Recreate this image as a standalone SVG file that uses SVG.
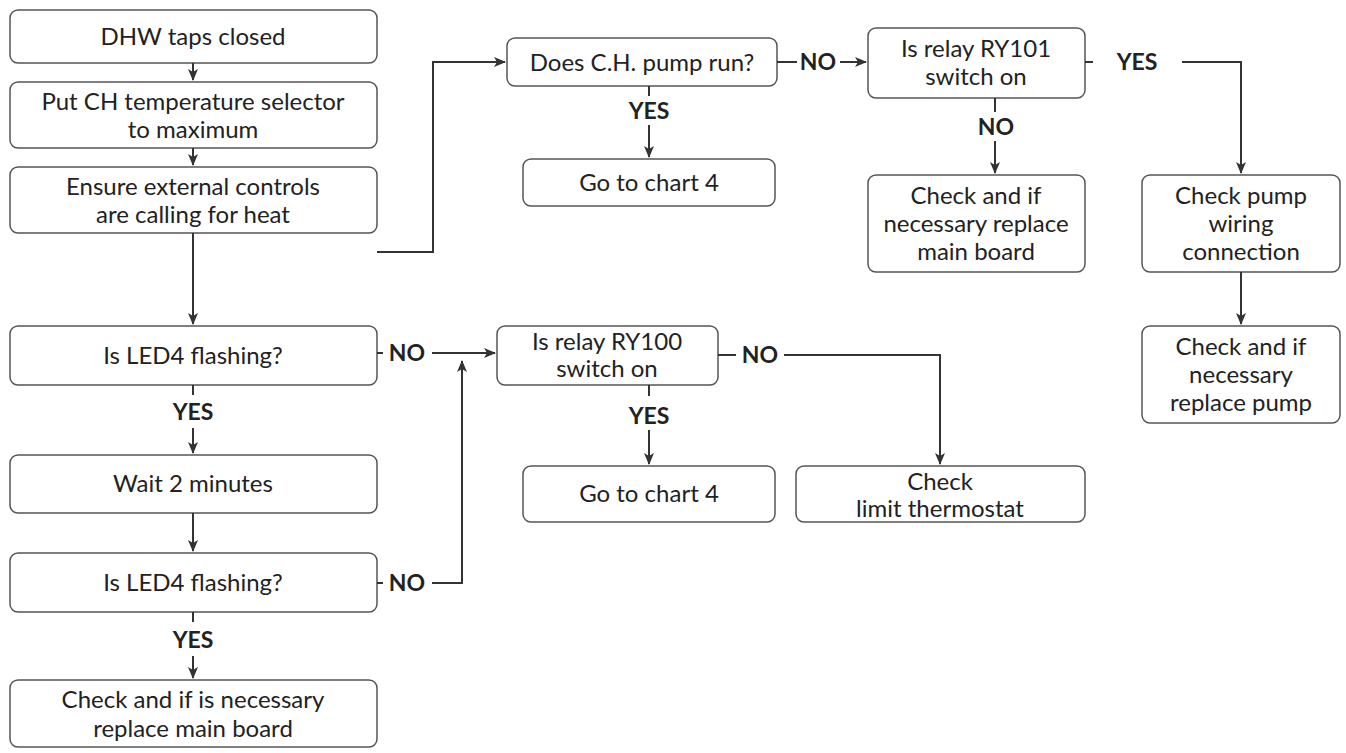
<svg xmlns="http://www.w3.org/2000/svg" width="1346" height="753" viewBox="0 0 1346 753">
<defs><marker id="a" markerWidth="12" markerHeight="10" refX="11" refY="5" orient="auto" markerUnits="userSpaceOnUse"><path d="M0,0 L12,5 L0,10 L3,5 Z" fill="#333"/></marker></defs>
<style>
rect{fill:#fff;stroke:#555;stroke-width:1.5}
text{font-family:Lato,"Noto Sans",sans-serif;font-size:24px;fill:#222;text-anchor:middle}
.l{font-weight:bold;font-size:23px}
.c{fill:none;stroke:#333;stroke-width:2}
</style>
<rect width="1346" height="753" style="fill:#fff;stroke:none"/>
<g id="n1"><rect x="10" y="10" width="367" height="53" rx="8"/><text x="193" y="45">DHW taps closed</text></g>
<g id="n2"><rect x="10" y="82" width="367" height="66" rx="8"/><text x="193" y="110">Put CH temperature selector</text><text x="193" y="138">to maximum</text></g>
<g id="n3"><rect x="10" y="167" width="367" height="66" rx="8"/><text x="193" y="195">Ensure external controls</text><text x="193" y="223">are calling for heat</text></g>
<g id="n4"><rect x="10" y="326" width="367" height="59" rx="8"/><text x="193" y="364">Is LED4 flashing?</text></g>
<g id="n5"><rect x="10" y="455" width="367" height="58" rx="8"/><text x="193" y="492">Wait 2 minutes</text></g>
<g id="n6"><rect x="10" y="553" width="367" height="59" rx="8"/><text x="193" y="591">Is LED4 flashing?</text></g>
<g id="n7"><rect x="10" y="680" width="367" height="67" rx="8"/><text x="193" y="708">Check and if is necessary</text><text x="193" y="737">replace main board</text></g>
<g id="n8"><rect x="507" y="38" width="270" height="48" rx="8"/><text x="642" y="71">Does C.H. pump run?</text></g>
<g id="n9"><rect x="523" y="159" width="252" height="47" rx="8"/><text x="649" y="191">Go to chart 4</text></g>
<g id="n10"><rect x="868" y="28" width="217" height="70" rx="8"/><text x="976" y="57">Is relay RY101</text><text x="976" y="85">switch on</text></g>
<g id="n11"><rect x="868" y="175" width="217" height="97" rx="8"/><text x="976" y="204">Check and if</text><text x="976" y="232">necessary replace</text><text x="976" y="260">main board</text></g>
<g id="n12"><rect x="1142" y="175" width="198" height="97" rx="8"/><text x="1241" y="204">Check pump</text><text x="1241" y="232">wiring</text><text x="1241" y="260">connection</text></g>
<g id="n13"><rect x="1142" y="326" width="198" height="97" rx="8"/><text x="1241" y="355">Check and if</text><text x="1241" y="383">necessary</text><text x="1241" y="411">replace pump</text></g>
<g id="n14"><rect x="497" y="326" width="221" height="59" rx="8"/><text x="607" y="350">Is relay RY100</text><text x="607" y="377">switch on</text></g>
<g id="n15"><rect x="523" y="466" width="252" height="56" rx="8"/><text x="649" y="502">Go to chart 4</text></g>
<g id="n16"><rect x="796" y="466" width="289" height="56" rx="8"/><text x="940" y="490">Check</text><text x="940" y="517">limit thermostat</text></g>
<g id="connectors">
<path class="c" d="M193 63V80" marker-end="url(#a)"/>
<path class="c" d="M193 148V165" marker-end="url(#a)"/>
<path class="c" d="M193 233V324" marker-end="url(#a)"/>
<path class="c" d="M193 385V395M193 428V453" marker-end="url(#a)"/>
<path class="c" d="M193 513V551" marker-end="url(#a)"/>
<path class="c" d="M193 612V622M193 656V678" marker-end="url(#a)"/>
<path class="c" d="M377 252H433V62H505" marker-end="url(#a)"/>
<path class="c" d="M777 62H797M840 62H866" marker-end="url(#a)"/>
<path class="c" d="M649 86V96M649 125V157" marker-end="url(#a)"/>
<path class="c" d="M995 98V112M995 141V173" marker-end="url(#a)"/>
<path class="c" d="M1085 62H1093M1182 62H1241V173" marker-end="url(#a)"/>
<path class="c" d="M1241 272V324" marker-end="url(#a)"/>
<path class="c" d="M377 353H383M432 353H495" marker-end="url(#a)"/>
<path class="c" d="M377 583H383M432 583H462V361" marker-end="url(#a)"/>
<path class="c" d="M649 385V396M649 430V464" marker-end="url(#a)"/>
<path class="c" d="M718 355H736M784 355H940V464" marker-end="url(#a)"/>
<text class="l" x="818" y="70">NO</text>
<text class="l" x="649" y="119">YES</text>
<text class="l" x="996" y="135">NO</text>
<text class="l" x="1137" y="70">YES</text>
<text class="l" x="407" y="361">NO</text>
<text class="l" x="193" y="420">YES</text>
<text class="l" x="407" y="591">NO</text>
<text class="l" x="193" y="648">YES</text>
<text class="l" x="649" y="424">YES</text>
<text class="l" x="760" y="363">NO</text>
</g>
</svg>
